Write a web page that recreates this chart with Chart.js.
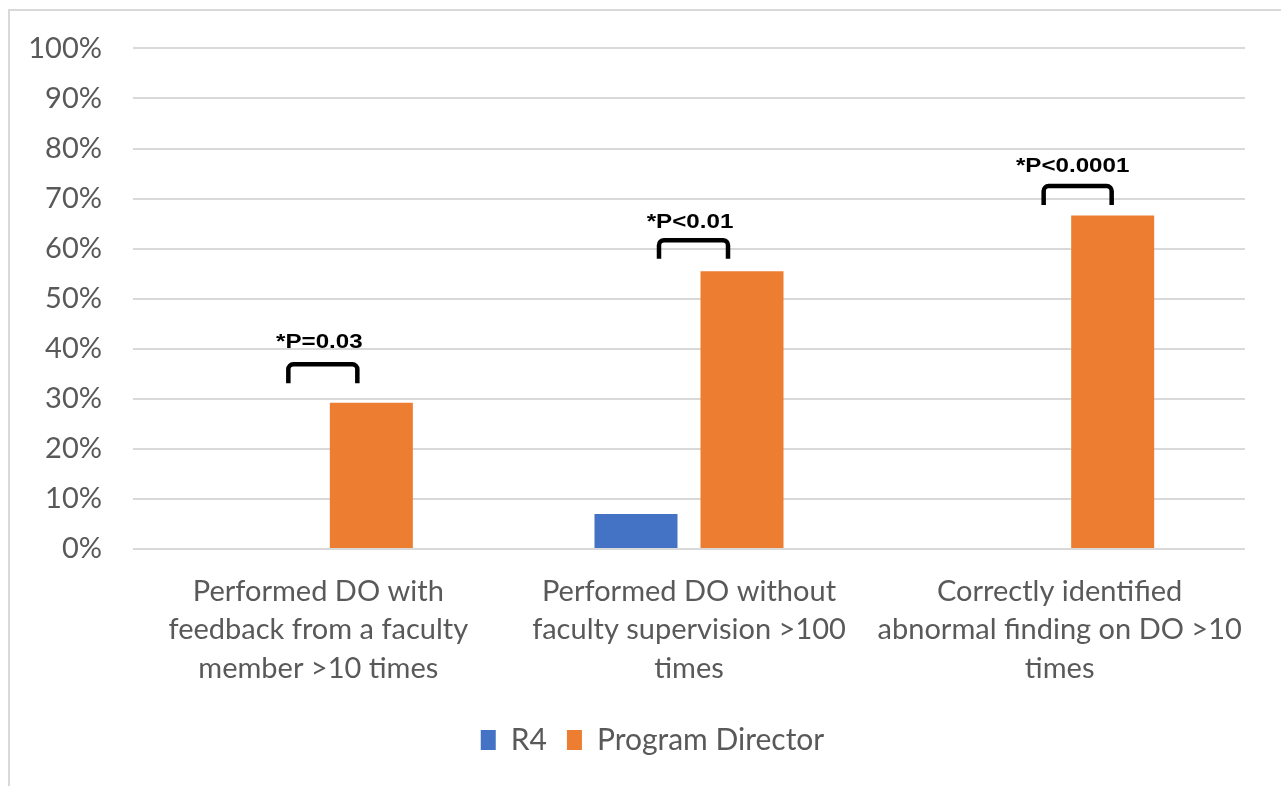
<!DOCTYPE html>
<html>
<head>
<meta charset="utf-8">
<script src="https://cdn.jsdelivr.net/npm/chart.js@4.4.1/dist/chart.umd.min.js"></script>
<style>
  html, body { margin: 0; padding: 0; background: #fff; overflow: hidden; }
  #wrap { position: relative; width: 1281px; height: 786px; }
  #frame { position: absolute; left: 8px; top: 9px; width: 2000px; height: 2000px; border: 2px solid #d9d9d9; }
  #chart { position: absolute; left: 0; top: 0; }
</style>
</head>
<body>
<div id="wrap">
  <div id="frame"></div>
  <canvas id="chart" width="1281" height="786"></canvas>
</div>
<script>
// --- data ---
const categories = [
  ['Performed DO with', 'feedback from a faculty', 'member >10 times'],
  ['Performed DO without', 'faculty supervision >100', 'times'],
  ['Correctly identified', 'abnormal finding on DO >10', 'times']
];
const seriesNames = ['R4', 'Program Director'];
const r4Values = [0, 7.0, 0];
const pdValues = [29.2, 55.5, 66.6];
const yTicks = [0, 10, 20, 30, 40, 50, 60, 70, 80, 90, 100];

// significance labels and where their brackets sit (in % units)
const pLabels = ['*P=0.03', '*P<0.01', '*P<0.0001'];
const bracketTop = [36.9, 61.7, 72.5];
const bracketBottom = [33.1, 58.0, 68.7];
const labelBaseline = [40.2, 64.2, 75.3];

const FONT = 'Lato, "Open Sans", sans-serif';
const GREY = '#595959';

// brackets + p-value text, drawn over the bars
const pValuePlugin = {
  id: 'pValues',
  afterLayout(chart) {
    // legend sits a bit right of centre in the original
    chart.legend.left += 30;
    chart.legend.right += 30;
  },
  afterDatasetsDraw(chart) {
    const ctx = chart.ctx;
    const x = chart.scales.x, y = chart.scales.y;
    // pixel offsets of bracket legs / text from the category centre
    const legs = [[-30, 39], [-30, 39], [-16, 52]];
    const textDx = [1, 1, 13];
    ctx.save();
    ctx.strokeStyle = '#000';
    ctx.lineWidth = 4.5;
    ctx.lineJoin = 'round';
    ctx.lineCap = 'butt';
    pLabels.forEach((txt, i) => {
      const cx = x.getPixelForValue(i);
      const x1 = cx + legs[i][0], x2 = cx + legs[i][1];
      const yt = y.getPixelForValue(bracketTop[i]);
      const yb = y.getPixelForValue(bracketBottom[i]);
      ctx.beginPath();
      ctx.moveTo(x1, yb);
      ctx.arcTo(x1, yt, x2, yt, 5);
      ctx.arcTo(x2, yt, x2, yb, 5);
      ctx.lineTo(x2, yb);
      ctx.stroke();

      ctx.save();
      ctx.translate(cx + textDx[i], y.getPixelForValue(labelBaseline[i]));
      ctx.scale(1.15, 1);
      ctx.font = 'bold 21px "Liberation Sans", Arial, sans-serif';
      ctx.fillStyle = '#000';
      ctx.textAlign = 'center';
      ctx.textBaseline = 'alphabetic';
      ctx.fillText(txt, 0, 0);
      ctx.restore();
    });
    ctx.restore();
  }
};

new Chart(document.getElementById('chart'), {
  type: 'bar',
  data: {
    labels: categories,
    datasets: [
      { label: seriesNames[0], data: r4Values, backgroundColor: '#4472C4', borderWidth: 0,
        categoryPercentage: 0.572, barPercentage: 0.783 },
      { label: seriesNames[1], data: pdValues, backgroundColor: '#ED7D31', borderWidth: 0,
        categoryPercentage: 0.572, barPercentage: 0.783 }
    ]
  },
  options: {
    responsive: false,
    animation: false,
    layout: { padding: { left: 0, right: 36, top: 47, bottom: 21 } },
    scales: {
      x: {
        grid: { display: false },
        border: { display: false },
        ticks: {
          color: GREY, padding: 15, maxRotation: 0, autoSkip: false,
          font: { family: FONT, size: 29, lineHeight: 1.33 }
        },
        afterFit(scale) { scale.height = 156; }
      },
      y: {
        min: 0, max: 100,
        afterBuildTicks(scale) { scale.ticks = yTicks.map(v => ({ value: v })); },
        grid: { color: '#d9d9d9', lineWidth: 2, drawTicks: false },
        border: { display: false },
        ticks: {
          color: GREY, padding: 31,
          font: { family: FONT, size: 29 },
          callback: v => v + '%'
        },
        afterFit(scale) { scale.width = 133; }
      }
    },
    plugins: {
      legend: {
        position: 'bottom',
        labels: {
          color: GREY, boxWidth: 15, boxHeight: 20, padding: 20,
          font: { family: FONT, size: 30 }
        }
      },
      tooltip: { enabled: false }
    }
  },
  plugins: [pValuePlugin]
});
</script>
</body>
</html>
